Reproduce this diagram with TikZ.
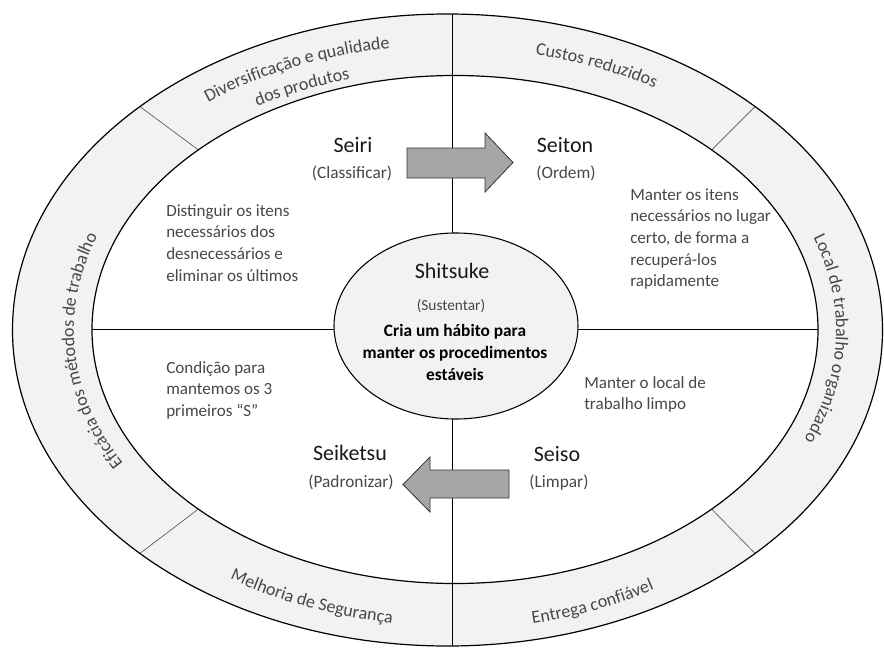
\documentclass[tikz,border=0pt]{standalone}
\usepackage{fontspec}
\setmainfont{Carlito}
\usetikzlibrary{positioning, shapes.geometric, decorations.text, calc}

\definecolor{ringgray}{HTML}{F2F2F2}
\definecolor{arrowgray}{HTML}{A6A6A6}
\definecolor{textgray}{HTML}{474747}

\newcommand{\ringfont}{\fontsize{13.5}{16}\selectfont}
\newcommand{\bodyfont}{\fontsize{12.8}{16.3}\selectfont}
\newcommand{\stitlefont}{\fontsize{16.5}{19}\selectfont}
\newcommand{\ssubfont}{\fontsize{13}{15}\selectfont}

\tikzset{
  ring/.style={draw=black, line width=0.9pt},
  ringcut/.style={draw=black!65, line width=0.5pt},
  quadline/.style={draw=black, line width=0.6pt},
  bigarrow/.style={draw=black!80, fill=arrowgray, line width=0.6pt, line join=miter},
  sname/.style={font=\stitlefont, text=black!90, inner sep=0pt, anchor=base},
  ssub/.style={font=\ssubfont, text=textgray, inner sep=0pt, anchor=base},
  sdesc/.style={font=\bodyfont, text=textgray, align=left, inner sep=0pt, anchor=north west},
  ringlabel/.style={decorate, decoration={text along path, text align=center,
      text={|\ringfont\color{textgray}|#1}}},
}

\begin{document}
\begin{tikzpicture}[x=0.75pt, y=0.75pt]
\useasboundingbox (-450,-317) rectangle (434,330);
\coordinate (oc) at (-2.5,0);
\coordinate (ic) at (5,0.5);

% outer ring
\fill[ringgray, even odd rule] (oc) ellipse [x radius=435, y radius=316]
  (ic) ellipse [x radius=363, y radius=254];
\foreach \t in {45,135,225,315}
  \draw[ringcut] ($(oc)+(\t:435 and 316)$) -- ($(ic)+(\t:363 and 254)$);
\coordinate (vtop) at (2,316);
\coordinate (vbot) at (2,-316);
\coordinate (hleft) at ($(ic)+(180:363 and 254)$);
\coordinate (hright) at ($(ic)+(0:363 and 254)$);
\draw[quadline] (vtop) -- (vbot);
\draw[quadline] (hleft) -- (hright);
\draw[ring] (oc) ellipse [x radius=435, y radius=316];
\draw[ring] (ic) ellipse [x radius=363, y radius=254];

\path[ringlabel={Diversificação e qualidade}] (155:403 and 285) arc [start angle=155, end angle=75, x radius=403, y radius=285];
\path[ringlabel={dos produtos}] (144.5:378 and 260) arc [start angle=144.5, end angle=84.5, x radius=378, y radius=260];
\path[ringlabel={Custos reduzidos}] (106:398 and 282) arc [start angle=106, end angle=26, x radius=398, y radius=282];
\path[ringlabel={Local de trabalho organizado}] (58.5:386 and 274) arc [start angle=58.5, end angle=-61.5, x radius=386, y radius=274];
\path[ringlabel={Entrega confiável}] (253:406 and 300) arc [start angle=253, end angle=333, x radius=406, y radius=300];
\path[ringlabel={Melhoria de Segurança}] (207.5:406 and 296) arc [start angle=207.5, end angle=287.5, x radius=406, y radius=296];
\path[ringlabel={Eficácia dos métodos de trabalho}] (253.7:376 and 270) arc [start angle=253.7, end angle=113.7, x radius=376, y radius=270];

% centre
\node[draw=black, fill=ringgray, ellipse, line width=0.8pt, minimum width=183pt, minimum height=139.5pt, inner sep=0pt] (shitsuke) at (6,4) {};
\node[sname] (shitsukename) at (2,52) {Shitsuke};
\node[font=\fontsize{11.5}{13}\selectfont, text=textgray, inner sep=0pt, anchor=base] (shitsukesub) at (1,20) {(Sustentar)};
\node[font=\fontsize{13}{16.5}\selectfont\bfseries, align=center, inner sep=0pt, anchor=north] (shitsukedesc) at (5,6) {Cria um hábito para\\manter os procedimentos\\estáveis};

% arrows
\draw[bigarrow] (-43,182) -- (35,182) -- (35,197) -- (63,167.5) -- (35,138) -- (35,152) -- (-43,152) -- cycle;
\draw[bigarrow] (59,-140) -- (-20,-140) -- (-20,-127) -- (-47,-154.5) -- (-20,-182) -- (-20,-168) -- (59,-168) -- cycle;

% the four S
\node[sname] (seiri) at (-97,178) {Seiri};
\node[ssub] (seirisub) at (-98,152) {(Classificar)};
\node[sname] (seiton) at (115,178) {Seiton};
\node[ssub] (seitonsub) at (116,152) {(Ordem)};
\node[sname] (seiketsu) at (-100,-130) {Seiketsu};
\node[ssub] (seiketsusub) at (-99,-157) {(Padronizar)};
\node[sname] (seiso) at (107,-131) {Seiso};
\node[ssub] (seisosub) at (109,-157) {(Limpar)};

\node[sdesc] (seiridesc) at (-284,126) {Distinguir os itens\\necessários dos\\desnecessários e\\eliminar os últimos};
\node[sdesc] (seitondesc) at (180,142) {Manter os itens\\necessários no lugar\\certo, de forma a\\recuperá-los\\rapidamente};
\node[sdesc] (seiketsudesc) at (-284,-31) {Condição para\\mantemos os 3\\primeiros “S”};
\node[sdesc] (seisodesc) at (134,-46) {Manter o local de\\trabalho limpo};
\end{tikzpicture}
\end{document}
